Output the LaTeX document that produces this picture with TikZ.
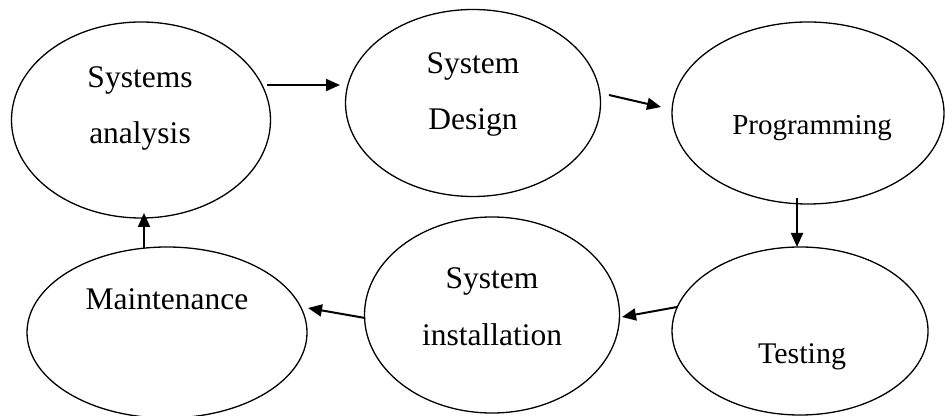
\documentclass[tikz,border=0pt]{standalone}
\usepackage{fontspec}
\setmainfont{Liberation Serif}
\usetikzlibrary{arrows.meta,shapes.geometric}
\begin{document}
\begin{tikzpicture}[x=0.5pt,y=-0.5pt,
  oval/.style={draw=black,line width=0.65pt,ellipse,fill=white,inner sep=0pt,outer sep=0pt},
  lbl/.style={anchor=base,inner sep=0pt,font=\fontsize{15.75}{18}\selectfont},
  arr/.style={line width=1pt,-{Triangle[length=7pt,width=6pt]}}]
\useasboundingbox (0,0) rectangle (945,416);
% ellipses
\node[oval,minimum width=259pt/2,minimum height=196pt/2] (e1) at (141,120) {};
\node[oval,minimum width=255pt/2,minimum height=187pt/2] (e2) at (473,103) {};
\node[oval,minimum width=272pt/2,minimum height=182pt/2] (e3) at (808,113) {};
\node[oval,minimum width=256pt/2,minimum height=168pt/2] (e4) at (800,331) {};
\node[oval,minimum width=255pt/2,minimum height=196pt/2] (e5) at (492,315) {};
\node[oval,minimum width=280pt/2,minimum height=171pt/2] (e6) at (167,332.5) {};
% labels
\node[lbl] (t1a) at (140,88) {Systems};
\node[lbl] (t1b) at (140,144) {analysis};
\node[lbl] (t2a) at (473,74) {System};
\node[lbl] (t2b) at (473,130) {Design};
\node[lbl,font=\fontsize{14.5}{17}\selectfont] (t3) at (812,135) {Programming};
\node[lbl,font=\fontsize{15}{18}\selectfont] (t4) at (802,363) {Testing};
\node[lbl] (t5a) at (492,288) {System};
\node[lbl] (t5b) at (492,345) {installation};
\node[lbl] (t6) at (167,309) {Maintenance};
% connector end points
\coordinate (a1s) at (267,85);  \coordinate (a1e) at (340,85);
\coordinate (a2s) at (609,95);  \coordinate (a2e) at (661,107);
\coordinate (a3s) at (797,198); \coordinate (a3e) at (797,247);
\coordinate (a4s) at (677,307); \coordinate (a4e) at (622,317);
\coordinate (a5s) at (365,318); \coordinate (a5e) at (308,308);
\coordinate (a6s) at (144,248); \coordinate (a6e) at (144,213);
% connectors
\draw[arr] (a1s) -- (a1e);
\draw[arr] (a2s) -- (a2e);
\draw[arr] (a3s) -- (a3e);
\draw[arr] (a4s) -- (a4e);
\draw[arr] (a5s) -- (a5e);
\draw[arr] (a6s) -- (a6e);
\end{tikzpicture}
\end{document}
